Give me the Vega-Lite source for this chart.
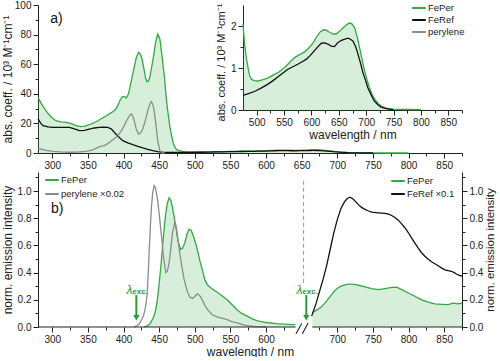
{
"$schema": "https://vega.github.io/schema/vega-lite/v6.json",
"padding": {"left": 0, "top": 0, "right": 0, "bottom": 0},
"spacing": 2,
"config": {
  "font": "Liberation Sans",
  "view": {"stroke": null},
  "axis": {"labelFont": "Liberation Sans", "labelFontSize": 10, "titleFont": "Liberation Sans", "titleFontSize": 12, "titleFontWeight": "normal", "labelColor": "#222", "titleColor": "#222", "domainColor": "#222", "tickColor": "#222", "grid": false, "labelPadding": 2, "labelOverlap": false, "labelFlush": false, "tickCount": 200},
  "legend": {"labelFont": "Liberation Sans", "labelFontSize": 9.5, "labelColor": "#222"}
},
"datasets": {
  "abs": [
    {"nm":280,"s":"FePer","v":37.6},{"nm":285,"s":"FePer","v":33},{"nm":291,"s":"FePer","v":28.6},{"nm":298,"s":"FePer","v":24.5},{"nm":305,"s":"FePer","v":21.8},{"nm":312,"s":"FePer","v":21},{"nm":319,"s":"FePer","v":20.7},{"nm":326,"s":"FePer","v":20},{"nm":333,"s":"FePer","v":18.5},{"nm":340,"s":"FePer","v":17.8},{"nm":346,"s":"FePer","v":18.2},{"nm":352,"s":"FePer","v":19.1},{"nm":358,"s":"FePer","v":20.3},{"nm":364,"s":"FePer","v":21.8},{"nm":370,"s":"FePer","v":23.5},{"nm":376,"s":"FePer","v":25.2},{"nm":381,"s":"FePer","v":26.8},{"nm":385,"s":"FePer","v":27.9},{"nm":389,"s":"FePer","v":29.5},{"nm":392,"s":"FePer","v":32},{"nm":395,"s":"FePer","v":35.5},{"nm":398,"s":"FePer","v":38},{"nm":401,"s":"FePer","v":38.2},{"nm":404,"s":"FePer","v":37.2},{"nm":407,"s":"FePer","v":40},{"nm":411,"s":"FePer","v":48.9},{"nm":415,"s":"FePer","v":58},{"nm":418,"s":"FePer","v":64.6},{"nm":421,"s":"FePer","v":68},{"nm":424,"s":"FePer","v":66.5},{"nm":426,"s":"FePer","v":63.5},{"nm":429,"s":"FePer","v":56},{"nm":431,"s":"FePer","v":50.5},{"nm":433,"s":"FePer","v":48.2},{"nm":435,"s":"FePer","v":48.5},{"nm":437,"s":"FePer","v":51.5},{"nm":439,"s":"FePer","v":56.8},{"nm":442,"s":"FePer","v":65},{"nm":445,"s":"FePer","v":74.8},{"nm":448,"s":"FePer","v":80.4},{"nm":451,"s":"FePer","v":77},{"nm":454,"s":"FePer","v":66},{"nm":457.5,"s":"FePer","v":51},{"nm":460,"s":"FePer","v":37},{"nm":462,"s":"FePer","v":28.6},{"nm":465,"s":"FePer","v":18},{"nm":467,"s":"FePer","v":12.8},{"nm":470,"s":"FePer","v":6},{"nm":473,"s":"FePer","v":3.2},
    {"nm":475,"s":"FePer","v":2.04},{"nm":478,"s":"FePer","v":1.56},{"nm":481,"s":"FePer","v":1.25},{"nm":484,"s":"FePer","v":1.02},{"nm":487,"s":"FePer","v":0.82},{"nm":490,"s":"FePer","v":0.74},{"nm":495,"s":"FePer","v":0.7},{"nm":502,"s":"FePer","v":0.69},{"nm":510,"s":"FePer","v":0.72},{"nm":520,"s":"FePer","v":0.76},{"nm":530,"s":"FePer","v":0.83},{"nm":540,"s":"FePer","v":0.9},{"nm":550,"s":"FePer","v":1.0},{"nm":557,"s":"FePer","v":1.09},{"nm":565,"s":"FePer","v":1.2},{"nm":572,"s":"FePer","v":1.27},{"nm":580,"s":"FePer","v":1.33},{"nm":588,"s":"FePer","v":1.39},{"nm":597,"s":"FePer","v":1.5},{"nm":603,"s":"FePer","v":1.6},{"nm":610,"s":"FePer","v":1.75},{"nm":616,"s":"FePer","v":1.86},{"nm":622,"s":"FePer","v":1.91},{"nm":627,"s":"FePer","v":1.9},{"nm":633,"s":"FePer","v":1.85},{"nm":640,"s":"FePer","v":1.81},{"nm":645,"s":"FePer","v":1.81},{"nm":650,"s":"FePer","v":1.86},{"nm":658,"s":"FePer","v":1.96},{"nm":665,"s":"FePer","v":2.04},{"nm":670,"s":"FePer","v":2.07},{"nm":674,"s":"FePer","v":2.05},{"nm":679,"s":"FePer","v":1.95},{"nm":684,"s":"FePer","v":1.72},{"nm":688,"s":"FePer","v":1.48},{"nm":693,"s":"FePer","v":1.17},{"nm":697,"s":"FePer","v":0.93},{"nm":702,"s":"FePer","v":0.7},{"nm":706,"s":"FePer","v":0.53},{"nm":711,"s":"FePer","v":0.37},{"nm":716,"s":"FePer","v":0.25},{"nm":722,"s":"FePer","v":0.15},{"nm":728,"s":"FePer","v":0.095},{"nm":735,"s":"FePer","v":0.05},{"nm":740,"s":"FePer","v":0.03},{"nm":750,"s":"FePer","v":0.02},{"nm":760,"s":"FePer","v":0.016},{"nm":780,"s":"FePer","v":0.012},{"nm":800,"s":"FePer","v":0.01},
    {"nm":280,"s":"FeRef","v":23},{"nm":284,"s":"FeRef","v":20},{"nm":287,"s":"FeRef","v":18.5},{"nm":294,"s":"FeRef","v":17.6},{"nm":301,"s":"FeRef","v":17.3},{"nm":312,"s":"FeRef","v":17.3},{"nm":324,"s":"FeRef","v":17.3},{"nm":330,"s":"FeRef","v":16.5},{"nm":338,"s":"FeRef","v":15.1},{"nm":345,"s":"FeRef","v":15.3},{"nm":352,"s":"FeRef","v":16.2},{"nm":359,"s":"FeRef","v":16.9},{"nm":366,"s":"FeRef","v":17.3},{"nm":372,"s":"FeRef","v":17.4},{"nm":378,"s":"FeRef","v":17.3},{"nm":383,"s":"FeRef","v":16.2},{"nm":387,"s":"FeRef","v":14},{"nm":393,"s":"FeRef","v":11},{"nm":399,"s":"FeRef","v":8.3},{"nm":406,"s":"FeRef","v":6.8},{"nm":413,"s":"FeRef","v":5.6},{"nm":420,"s":"FeRef","v":4.5},{"nm":427,"s":"FeRef","v":3.4},{"nm":434,"s":"FeRef","v":2.5},{"nm":441,"s":"FeRef","v":1.6},{"nm":448,"s":"FeRef","v":0.9},{"nm":455,"s":"FeRef","v":0.5},{"nm":465,"s":"FeRef","v":0.36},
    {"nm":475,"s":"FeRef","v":0.35},{"nm":485,"s":"FeRef","v":0.39},{"nm":496,"s":"FeRef","v":0.44},{"nm":508,"s":"FeRef","v":0.52},{"nm":520,"s":"FeRef","v":0.61},{"nm":530,"s":"FeRef","v":0.7},{"nm":539,"s":"FeRef","v":0.79},{"nm":548,"s":"FeRef","v":0.88},{"nm":557,"s":"FeRef","v":0.97},{"nm":566,"s":"FeRef","v":1.03},{"nm":575,"s":"FeRef","v":1.09},{"nm":583,"s":"FeRef","v":1.15},{"nm":591,"s":"FeRef","v":1.21},{"nm":598,"s":"FeRef","v":1.3},{"nm":606,"s":"FeRef","v":1.42},{"nm":612,"s":"FeRef","v":1.51},{"nm":618,"s":"FeRef","v":1.59},{"nm":624,"s":"FeRef","v":1.6},{"nm":630,"s":"FeRef","v":1.57},{"nm":636,"s":"FeRef","v":1.52},{"nm":642,"s":"FeRef","v":1.51},{"nm":648,"s":"FeRef","v":1.6},{"nm":655,"s":"FeRef","v":1.66},{"nm":661,"s":"FeRef","v":1.69},{"nm":667,"s":"FeRef","v":1.71},{"nm":672,"s":"FeRef","v":1.68},{"nm":676,"s":"FeRef","v":1.64},{"nm":681,"s":"FeRef","v":1.5},{"nm":685,"s":"FeRef","v":1.33},{"nm":690,"s":"FeRef","v":1.1},{"nm":694,"s":"FeRef","v":0.89},{"nm":699,"s":"FeRef","v":0.7},{"nm":703,"s":"FeRef","v":0.53},{"nm":709,"s":"FeRef","v":0.36},{"nm":715,"s":"FeRef","v":0.21},{"nm":721,"s":"FeRef","v":0.13},{"nm":727,"s":"FeRef","v":0.07},{"nm":735,"s":"FeRef","v":0.04},{"nm":746,"s":"FeRef","v":0.016},{"nm":750,"s":"FeRef","v":0.01},
    {"nm":280,"s":"perylene","v":3.2},{"nm":290,"s":"perylene","v":2.0},{"nm":301,"s":"perylene","v":1.1},{"nm":312,"s":"perylene","v":0.7},{"nm":324,"s":"perylene","v":0.5},{"nm":335,"s":"perylene","v":0.6},{"nm":347,"s":"perylene","v":1.1},{"nm":356,"s":"perylene","v":2.0},{"nm":364,"s":"perylene","v":3.8},{"nm":369,"s":"perylene","v":4.6},{"nm":373,"s":"perylene","v":5},{"nm":378,"s":"perylene","v":6.3},{"nm":383,"s":"perylene","v":8.3},{"nm":388,"s":"perylene","v":10},{"nm":392,"s":"perylene","v":11.7},{"nm":397,"s":"perylene","v":15},{"nm":401,"s":"perylene","v":18.5},{"nm":405,"s":"perylene","v":22.5},{"nm":409,"s":"perylene","v":25.5},{"nm":411,"s":"perylene","v":26.4},{"nm":413,"s":"perylene","v":25},{"nm":415,"s":"perylene","v":21.8},{"nm":418,"s":"perylene","v":16},{"nm":421,"s":"perylene","v":12.8},{"nm":424,"s":"perylene","v":13.5},{"nm":427,"s":"perylene","v":16.2},{"nm":431,"s":"perylene","v":22.5},{"nm":434,"s":"perylene","v":28.6},{"nm":437,"s":"perylene","v":33},{"nm":439,"s":"perylene","v":34.7},{"nm":441,"s":"perylene","v":33},{"nm":443,"s":"perylene","v":28.6},{"nm":446,"s":"perylene","v":17},{"nm":448,"s":"perylene","v":8.3},{"nm":451,"s":"perylene","v":1.6},{"nm":455,"s":"perylene","v":0},{"nm":458,"s":"perylene","v":0}
  ],
  "em": [
    {"nm":429,"s":"FePer","seg":"L","v":0},{"nm":434,"s":"FePer","seg":"L","v":0.01},{"nm":438,"s":"FePer","seg":"L","v":0.03},{"nm":442,"s":"FePer","seg":"L","v":0.07},{"nm":445.4,"s":"FePer","seg":"L","v":0.13},{"nm":448,"s":"FePer","seg":"L","v":0.22},{"nm":450,"s":"FePer","seg":"L","v":0.32},{"nm":452.5,"s":"FePer","seg":"L","v":0.45},{"nm":454.7,"s":"FePer","seg":"L","v":0.59},{"nm":457,"s":"FePer","seg":"L","v":0.72},{"nm":459.4,"s":"FePer","seg":"L","v":0.84},{"nm":461.5,"s":"FePer","seg":"L","v":0.91},{"nm":464,"s":"FePer","seg":"L","v":0.95},{"nm":466.5,"s":"FePer","seg":"L","v":0.93},{"nm":468.7,"s":"FePer","seg":"L","v":0.88},{"nm":471,"s":"FePer","seg":"L","v":0.81},{"nm":473.3,"s":"FePer","seg":"L","v":0.74},{"nm":476.6,"s":"FePer","seg":"L","v":0.63},{"nm":480.3,"s":"FePer","seg":"L","v":0.57},{"nm":483,"s":"FePer","seg":"L","v":0.58},{"nm":486,"s":"FePer","seg":"L","v":0.62},{"nm":489,"s":"FePer","seg":"L","v":0.68},{"nm":492,"s":"FePer","seg":"L","v":0.72},{"nm":495,"s":"FePer","seg":"L","v":0.71},{"nm":498,"s":"FePer","seg":"L","v":0.67},{"nm":501,"s":"FePer","seg":"L","v":0.62},{"nm":504,"s":"FePer","seg":"L","v":0.56},{"nm":507,"s":"FePer","seg":"L","v":0.49},{"nm":510.6,"s":"FePer","seg":"L","v":0.42},{"nm":514,"s":"FePer","seg":"L","v":0.35},{"nm":517.6,"s":"FePer","seg":"L","v":0.31},{"nm":524.5,"s":"FePer","seg":"L","v":0.28},{"nm":531.5,"s":"FePer","seg":"L","v":0.255},{"nm":538,"s":"FePer","seg":"L","v":0.23},{"nm":545.5,"s":"FePer","seg":"L","v":0.2},{"nm":552,"s":"FePer","seg":"L","v":0.165},{"nm":559.5,"s":"FePer","seg":"L","v":0.125},{"nm":566,"s":"FePer","seg":"L","v":0.1},{"nm":573.5,"s":"FePer","seg":"L","v":0.08},{"nm":580,"s":"FePer","seg":"L","v":0.062},{"nm":587,"s":"FePer","seg":"L","v":0.047},{"nm":600,"s":"FePer","seg":"L","v":0.033},{"nm":615,"s":"FePer","seg":"L","v":0.025},{"nm":630,"s":"FePer","seg":"L","v":0.02},{"nm":641,"s":"FePer","seg":"L","v":0.017},
    {"nm":415,"s":"perylene ×0.02","seg":"L","v":0},{"nm":422,"s":"perylene ×0.02","seg":"L","v":0.02},{"nm":428,"s":"perylene ×0.02","seg":"L","v":0.08},{"nm":431,"s":"perylene ×0.02","seg":"L","v":0.15},{"nm":433,"s":"perylene ×0.02","seg":"L","v":0.23},{"nm":434.5,"s":"perylene ×0.02","seg":"L","v":0.37},{"nm":436,"s":"perylene ×0.02","seg":"L","v":0.55},{"nm":437.5,"s":"perylene ×0.02","seg":"L","v":0.72},{"nm":439.3,"s":"perylene ×0.02","seg":"L","v":0.89},{"nm":441,"s":"perylene ×0.02","seg":"L","v":0.99},{"nm":443,"s":"perylene ×0.02","seg":"L","v":1.04},{"nm":445,"s":"perylene ×0.02","seg":"L","v":1.02},{"nm":447.7,"s":"perylene ×0.02","seg":"L","v":0.94},{"nm":450.5,"s":"perylene ×0.02","seg":"L","v":0.81},{"nm":453.3,"s":"perylene ×0.02","seg":"L","v":0.67},{"nm":456,"s":"perylene ×0.02","seg":"L","v":0.52},{"nm":459.4,"s":"perylene ×0.02","seg":"L","v":0.4},{"nm":461.5,"s":"perylene ×0.02","seg":"L","v":0.41},{"nm":464,"s":"perylene ×0.02","seg":"L","v":0.47},{"nm":466.5,"s":"perylene ×0.02","seg":"L","v":0.58},{"nm":468.7,"s":"perylene ×0.02","seg":"L","v":0.69},{"nm":471.9,"s":"perylene ×0.02","seg":"L","v":0.77},{"nm":474,"s":"perylene ×0.02","seg":"L","v":0.74},{"nm":475.7,"s":"perylene ×0.02","seg":"L","v":0.67},{"nm":478.5,"s":"perylene ×0.02","seg":"L","v":0.56},{"nm":481.7,"s":"perylene ×0.02","seg":"L","v":0.45},{"nm":485,"s":"perylene ×0.02","seg":"L","v":0.35},{"nm":489.6,"s":"perylene ×0.02","seg":"L","v":0.26},{"nm":493,"s":"perylene ×0.02","seg":"L","v":0.22},{"nm":496.6,"s":"perylene ×0.02","seg":"L","v":0.21},{"nm":500,"s":"perylene ×0.02","seg":"L","v":0.225},{"nm":503.6,"s":"perylene ×0.02","seg":"L","v":0.245},{"nm":507,"s":"perylene ×0.02","seg":"L","v":0.23},{"nm":510.6,"s":"perylene ×0.02","seg":"L","v":0.2},{"nm":514,"s":"perylene ×0.02","seg":"L","v":0.16},{"nm":517.6,"s":"perylene ×0.02","seg":"L","v":0.13},{"nm":524.5,"s":"perylene ×0.02","seg":"L","v":0.09},{"nm":531.5,"s":"perylene ×0.02","seg":"L","v":0.075},{"nm":538,"s":"perylene ×0.02","seg":"L","v":0.065},{"nm":545.5,"s":"perylene ×0.02","seg":"L","v":0.054},{"nm":552,"s":"perylene ×0.02","seg":"L","v":0.04},{"nm":559.5,"s":"perylene ×0.02","seg":"L","v":0.03},{"nm":566,"s":"perylene ×0.02","seg":"L","v":0.02},{"nm":573.5,"s":"perylene ×0.02","seg":"L","v":0.01},{"nm":585,"s":"perylene ×0.02","seg":"L","v":0.003},{"nm":600,"s":"perylene ×0.02","seg":"L","v":0},
    {"nm":665,"s":"FePer","seg":"R","v":0.105},{"nm":668,"s":"FePer","seg":"R","v":0.115},{"nm":673.6,"s":"FePer","seg":"R","v":0.133},{"nm":678,"s":"FePer","seg":"R","v":0.15},{"nm":682.9,"s":"FePer","seg":"R","v":0.177},{"nm":687,"s":"FePer","seg":"R","v":0.205},{"nm":692.3,"s":"FePer","seg":"R","v":0.24},{"nm":697,"s":"FePer","seg":"R","v":0.27},{"nm":701.6,"s":"FePer","seg":"R","v":0.29},{"nm":706,"s":"FePer","seg":"R","v":0.302},{"nm":710.9,"s":"FePer","seg":"R","v":0.31},{"nm":715,"s":"FePer","seg":"R","v":0.315},{"nm":720.3,"s":"FePer","seg":"R","v":0.316},{"nm":725,"s":"FePer","seg":"R","v":0.312},{"nm":729.6,"s":"FePer","seg":"R","v":0.307},{"nm":738.9,"s":"FePer","seg":"R","v":0.295},{"nm":748.2,"s":"FePer","seg":"R","v":0.283},{"nm":757.6,"s":"FePer","seg":"R","v":0.275},{"nm":766.9,"s":"FePer","seg":"R","v":0.283},{"nm":776.3,"s":"FePer","seg":"R","v":0.292},{"nm":783.3,"s":"FePer","seg":"R","v":0.293},{"nm":790.3,"s":"FePer","seg":"R","v":0.275},{"nm":799.6,"s":"FePer","seg":"R","v":0.25},{"nm":808.9,"s":"FePer","seg":"R","v":0.226},{"nm":818.3,"s":"FePer","seg":"R","v":0.2},{"nm":827.6,"s":"FePer","seg":"R","v":0.183},{"nm":836.9,"s":"FePer","seg":"R","v":0.17},{"nm":846.2,"s":"FePer","seg":"R","v":0.167},{"nm":855.6,"s":"FePer","seg":"R","v":0.165},{"nm":862.6,"s":"FePer","seg":"R","v":0.175},{"nm":869.6,"s":"FePer","seg":"R","v":0.17},{"nm":875,"s":"FePer","seg":"R","v":0.175},
    {"nm":664,"s":"FeRef ×0.1","seg":"R","v":0.08},{"nm":670,"s":"FeRef ×0.1","seg":"R","v":0.17},{"nm":675,"s":"FeRef ×0.1","seg":"R","v":0.26},{"nm":680,"s":"FeRef ×0.1","seg":"R","v":0.35},{"nm":685,"s":"FeRef ×0.1","seg":"R","v":0.45},{"nm":690,"s":"FeRef ×0.1","seg":"R","v":0.57},{"nm":695,"s":"FeRef ×0.1","seg":"R","v":0.69},{"nm":700,"s":"FeRef ×0.1","seg":"R","v":0.79},{"nm":705,"s":"FeRef ×0.1","seg":"R","v":0.87},{"nm":710,"s":"FeRef ×0.1","seg":"R","v":0.92},{"nm":714,"s":"FeRef ×0.1","seg":"R","v":0.945},{"nm":718,"s":"FeRef ×0.1","seg":"R","v":0.955},{"nm":722.6,"s":"FeRef ×0.1","seg":"R","v":0.94},{"nm":726,"s":"FeRef ×0.1","seg":"R","v":0.92},{"nm":729.6,"s":"FeRef ×0.1","seg":"R","v":0.9},{"nm":734,"s":"FeRef ×0.1","seg":"R","v":0.88},{"nm":738.9,"s":"FeRef ×0.1","seg":"R","v":0.865},{"nm":743,"s":"FeRef ×0.1","seg":"R","v":0.855},{"nm":748.2,"s":"FeRef ×0.1","seg":"R","v":0.845},{"nm":757.6,"s":"FeRef ×0.1","seg":"R","v":0.84},{"nm":766.9,"s":"FeRef ×0.1","seg":"R","v":0.835},{"nm":772,"s":"FeRef ×0.1","seg":"R","v":0.83},{"nm":776.3,"s":"FeRef ×0.1","seg":"R","v":0.82},{"nm":781,"s":"FeRef ×0.1","seg":"R","v":0.805},{"nm":785.6,"s":"FeRef ×0.1","seg":"R","v":0.786},{"nm":790,"s":"FeRef ×0.1","seg":"R","v":0.76},{"nm":794.9,"s":"FeRef ×0.1","seg":"R","v":0.73},{"nm":799.6,"s":"FeRef ×0.1","seg":"R","v":0.695},{"nm":804.2,"s":"FeRef ×0.1","seg":"R","v":0.655},{"nm":808.9,"s":"FeRef ×0.1","seg":"R","v":0.617},{"nm":813.6,"s":"FeRef ×0.1","seg":"R","v":0.58},{"nm":818,"s":"FeRef ×0.1","seg":"R","v":0.548},{"nm":822.9,"s":"FeRef ×0.1","seg":"R","v":0.52},{"nm":827.6,"s":"FeRef ×0.1","seg":"R","v":0.498},{"nm":832.2,"s":"FeRef ×0.1","seg":"R","v":0.48},{"nm":836.9,"s":"FeRef ×0.1","seg":"R","v":0.465},{"nm":841.6,"s":"FeRef ×0.1","seg":"R","v":0.45},{"nm":846,"s":"FeRef ×0.1","seg":"R","v":0.435},{"nm":850.9,"s":"FeRef ×0.1","seg":"R","v":0.42},{"nm":855.6,"s":"FeRef ×0.1","seg":"R","v":0.415},{"nm":860.2,"s":"FeRef ×0.1","seg":"R","v":0.41},{"nm":864,"s":"FeRef ×0.1","seg":"R","v":0.4},{"nm":867.2,"s":"FeRef ×0.1","seg":"R","v":0.39},{"nm":871,"s":"FeRef ×0.1","seg":"R","v":0.38},{"nm":875,"s":"FeRef ×0.1","seg":"R","v":0.375}
  ]
},
"vconcat": [
  {
    "width": 424, "height": 148,
    "layer": [
      {"layer": [
        {"data": {"name": "abs"}, "transform": [{"filter": "datum.s == 'FePer'"}],
         "mark": {"type": "area", "color": "#35a845", "opacity": 0.2},
         "encoding": {
           "x": {"field": "nm", "type": "quantitative", "scale": {"domain": [280, 875], "nice": false, "zero": false}, "axis": {"orient": "bottom", "title": null, "tickCount": 200, "labelOverlap": false, "values": [300,325,350,375,400,425,450,475,500,525,550,575,600,625,650,675,700,725,750,775,800,825,850,875], "labelExpr": "datum.value % 50 == 0 ? datum.label : ''", "format": "d", "tickSize": {"condition": {"test": "datum.value % 50 != 0", "value": 3}, "value": 5}}},
           "y": {"field": "v", "type": "quantitative", "scale": {"domain": [0, 100], "nice": false}, "axis": {"orient": "left", "title": "abs. coeff. / 10³ M⁻¹cm⁻¹", "tickCount": 200, "labelOverlap": false, "values": [0,10,20,30,40,50,60,70,80,90,100], "format": "d", "labelExpr": "datum.value % 20 == 0 ? datum.label : ''", "tickSize": {"condition": {"test": "datum.value % 20 != 0", "value": 3}, "value": 5}, "minExtent": 21, "maxExtent": 21, "titlePadding": 3}}
         }},
        {"data": {"name": "abs"},
         "mark": {"type": "line", "strokeWidth": 1.3},
         "encoding": {
           "x": {"field": "nm", "type": "quantitative", "scale": {"domain": [280, 875], "nice": false, "zero": false}},
           "y": {"field": "v", "type": "quantitative", "scale": {"domain": [0, 100], "nice": false}},
           "color": {"field": "s", "type": "nominal", "scale": {"domain": ["FePer", "FeRef", "perylene"], "range": ["#35a845", "#111111", "#8c8c8c"]},
             "legend": {"title": null, "orient": "none", "legendX": 374, "legendY": -4, "symbolType": "M-1.2,0L1.2,0", "symbolSize": 128, "symbolStrokeWidth": 2, "rowPadding": 0, "padding": 0, "labelOffset": 2}}
         }},
        {"data": {"values": [{}]},
         "mark": {"type": "text", "text": "a)", "fontSize": 14, "align": "center", "color": "#111"},
         "encoding": {"x": {"datum": 306}, "y": {"datum": 90.5}}}
      ]},
      {"layer": [
        {"data": {"name": "abs"}, "transform": [{"filter": "datum.s == 'FePer' && datum.nm >= 475"}],
         "mark": {"type": "area", "color": "#35a845", "opacity": 0.2},
         "encoding": {
           "x": {"field": "nm", "type": "quantitative", "scale": {"domain": [475, 875], "range": [205, 424], "nice": false, "zero": false}, "axis": {"orient": "bottom", "offset": -43, "title": "wavelength / nm", "titlePadding": 2, "tickCount": 200, "labelOverlap": false, "values": [500,525,550,575,600,625,650,675,700,725,750,775,800,825,850,875], "labelExpr": "datum.value % 50 == 0 ? datum.label : ''", "format": "d", "tickSize": {"condition": {"test": "datum.value % 50 != 0", "value": 3}, "value": 5}}},
           "y": {"field": "v", "type": "quantitative", "scale": {"domain": [0, 2.5], "range": [105, 0], "nice": false}, "axis": {"orient": "left", "offset": -205, "title": "abs. coeff. / 10³ M⁻¹cm⁻¹", "titlePadding": 4, "titleFontSize": 11, "titleY": 57, "tickCount": 200, "labelOverlap": false, "values": [0, 0.5, 1, 1.5, 2], "labelExpr": "datum.value % 1 == 0 ? format(datum.value, 'd') : ''", "tickSize": {"condition": {"test": "datum.value % 1 != 0", "value": 3}, "value": 5}}}
         }},
        {"data": {"name": "abs"}, "transform": [{"filter": "datum.s != 'perylene' && datum.nm >= 475"}],
         "mark": {"type": "line", "strokeWidth": 1.3},
         "encoding": {
           "x": {"field": "nm", "type": "quantitative", "scale": {"domain": [475, 875], "range": [205, 424], "nice": false, "zero": false}},
           "y": {"field": "v", "type": "quantitative", "scale": {"domain": [0, 2.5], "range": [105, 0], "nice": false}},
           "color": {"field": "s", "type": "nominal"}
         }}
      ]}
    ],
    "resolve": {"scale": {"x": "independent", "y": "independent"}, "axis": {"x": "independent", "y": "independent"}}
  },
  {
    "width": 424, "height": 155,
    "layer": [
      {"layer": [
        {"data": {"name": "em"}, "transform": [{"filter": "datum.s == 'FePer' && datum.seg == 'L'"}],
         "mark": {"type": "area", "color": "#35a845", "opacity": 0.2},
         "encoding": {
           "x": {"field": "nm", "type": "quantitative", "scale": {"domain": [280, 875], "nice": false, "zero": false}, "axis": {"orient": "bottom", "domain": false, "title": "wavelength / nm", "titlePadding": 2, "tickCount": 200, "labelOverlap": false, "values": [300,325,350,375,400,425,450,475,500,525,550,575,600,625,675,700,725,750,775,800,825,850,875], "labelExpr": "datum.value % 50 == 0 ? datum.label : ''", "format": "d", "tickSize": {"condition": {"test": "datum.value % 50 != 0", "value": 3}, "value": 5}}},
           "y": {"field": "v", "type": "quantitative", "scale": {"domain": [0, 1.14], "nice": false}, "axis": {"orient": "left", "title": "norm. emission intensity", "tickCount": 200, "labelOverlap": false, "values": [0,0.1,0.2,0.3,0.4,0.5,0.6,0.7,0.8,0.9,1.0,1.1], "labelExpr": "round(datum.value*10) % 2 == 0 ? format(datum.value, '.1f') : ''", "tickSize": {"condition": {"test": "round(datum.value*10) % 2 != 0", "value": 3}, "value": 5}, "minExtent": 21, "maxExtent": 21, "titlePadding": 3}}
         }},
        {"data": {"name": "em"}, "transform": [{"filter": "datum.seg == 'L'"}],
         "mark": {"type": "line", "strokeWidth": 1.3},
         "encoding": {
           "x": {"field": "nm", "type": "quantitative", "scale": {"domain": [280, 875], "nice": false, "zero": false}},
           "y": {"field": "v", "type": "quantitative", "scale": {"domain": [0, 1.14], "nice": false}},
           "color": {"field": "s", "type": "nominal", "scale": {"domain": ["FePer", "perylene ×0.02"], "range": ["#35a845", "#8c8c8c"]},
             "legend": {"title": null, "orient": "none", "legendX": 7, "legendY": 1, "symbolType": "M-1.2,0L1.2,0", "symbolSize": 128, "symbolStrokeWidth": 2, "rowPadding": 2, "padding": 0, "labelOffset": 2}}
         }},
        {"data": {"values": [{}]},
         "mark": {"type": "rule", "color": "#2a9a3a", "strokeWidth": 2},
         "encoding": {"x": {"datum": 418}, "y": {"datum": 0.235}, "y2": {"datum": 0.08}}},
        {"data": {"values": [{}]},
         "mark": {"type": "point", "shape": "triangle-down", "filled": true, "size": 40, "opacity": 1, "color": "#2a9a3a"},
         "encoding": {"x": {"datum": 418}, "y": {"datum": 0.068}}},
        {"data": {"values": [{}]},
         "mark": {"type": "text", "text": "λ", "fontSize": 12, "fontStyle": "italic", "color": "#2a9a3a", "align": "right", "dx": -4},
         "encoding": {"x": {"datum": 418}, "y": {"datum": 0.27}}},
        {"data": {"values": [{}]},
         "mark": {"type": "text", "text": "exc.", "fontSize": 8, "fontWeight": "bold", "color": "#2a9a3a", "align": "left", "dx": -4},
         "encoding": {"x": {"datum": 418}, "y": {"datum": 0.258}}},
        {"data": {"values": [{}]},
         "mark": {"type": "text", "text": "b)", "fontSize": 14, "align": "center", "color": "#111"},
         "encoding": {"x": {"datum": 307}, "y": {"datum": 0.865}}}
      ]},
      {"layer": [
        {"data": {"name": "em"}, "transform": [{"filter": "datum.s == 'FePer' && datum.seg == 'R'"}],
         "mark": {"type": "area", "color": "#35a845", "opacity": 0.2},
         "encoding": {
           "x": {"field": "nm", "type": "quantitative", "scale": {"domain": [280, 875], "nice": false, "zero": false}},
           "y": {"field": "v", "type": "quantitative", "scale": {"domain": [0, 1.14], "nice": false}, "axis": {"orient": "right", "title": "norm. emission intensity", "titleFontSize": 11.5, "titleAngle": 270, "titleBaseline": "top", "titlePadding": 2, "tickCount": 200, "labelOverlap": false, "values": [0,0.1,0.2,0.3,0.4,0.5,0.6,0.7,0.8,0.9,1.0,1.1], "labelExpr": "round(datum.value*10) % 2 == 0 ? format(datum.value, '.1f') : ''", "tickSize": {"condition": {"test": "round(datum.value*10) % 2 != 0", "value": 3}, "value": 5}}}
         }},
        {"data": {"name": "em"}, "transform": [{"filter": "datum.seg == 'R'"}],
         "mark": {"type": "line", "strokeWidth": 1.3},
         "encoding": {
           "x": {"field": "nm", "type": "quantitative", "scale": {"domain": [280, 875], "nice": false, "zero": false}},
           "y": {"field": "v", "type": "quantitative", "scale": {"domain": [0, 1.14], "nice": false}},
           "color": {"field": "s", "type": "nominal", "scale": {"domain": ["FePer", "FeRef ×0.1"], "range": ["#35a845", "#111111"]},
             "legend": {"title": null, "orient": "none", "legendX": 353, "legendY": 2, "symbolType": "M-1.2,0L1.2,0", "symbolSize": 128, "symbolStrokeWidth": 2, "rowPadding": 1, "padding": 0, "labelOffset": 2}}
         }},
        {"data": {"values": [{}]},
         "mark": {"type": "rule", "color": "#9a9a9a", "strokeWidth": 1, "strokeDash": [4, 3]},
         "encoding": {"x": {"datum": 652.7}, "y": {"datum": 1.075}, "y2": {"datum": 0.31}}},
        {"data": {"values": [{}]},
         "mark": {"type": "rule", "color": "#2a9a3a", "strokeWidth": 2},
         "encoding": {"x": {"datum": 656.5}, "y": {"datum": 0.235}, "y2": {"datum": 0.08}}},
        {"data": {"values": [{}]},
         "mark": {"type": "point", "shape": "triangle-down", "filled": true, "size": 40, "opacity": 1, "color": "#2a9a3a"},
         "encoding": {"x": {"datum": 656.5}, "y": {"datum": 0.068}}},
        {"data": {"values": [{}]},
         "mark": {"type": "text", "text": "λ", "fontSize": 12, "fontStyle": "italic", "color": "#2a9a3a", "align": "right", "dx": -4},
         "encoding": {"x": {"datum": 656.5}, "y": {"datum": 0.27}}},
        {"data": {"values": [{}]},
         "mark": {"type": "text", "text": "exc.", "fontSize": 8, "fontWeight": "bold", "color": "#2a9a3a", "align": "left", "dx": -4},
         "encoding": {"x": {"datum": 656.5}, "y": {"datum": 0.258}}},
        {"data": {"values": [{}]},
         "mark": {"type": "rule", "color": "#222", "strokeWidth": 1},
         "encoding": {"x": {"datum": 280}, "x2": {"datum": 641.5}, "y": {"datum": 0}}},
        {"data": {"values": [{}]},
         "mark": {"type": "rule", "color": "#222", "strokeWidth": 1},
         "encoding": {"x": {"datum": 665}, "x2": {"datum": 875}, "y": {"datum": 0}}},
        {"data": {"values": [{}]},
         "mark": {"type": "rule", "color": "#222", "strokeWidth": 1.1},
         "encoding": {"x": {"datum": 642}, "x2": {"datum": 650}, "y": {"datum": -0.05}, "y2": {"datum": 0.025}}},
        {"data": {"values": [{}]},
         "mark": {"type": "rule", "color": "#222", "strokeWidth": 1.1},
         "encoding": {"x": {"datum": 651}, "x2": {"datum": 659}, "y": {"datum": -0.05}, "y2": {"datum": 0.03}}}
      ]}
    ],
    "resolve": {"scale": {"y": "independent", "color": "independent"}, "axis": {"y": "independent"}, "legend": {"color": "independent"}}
  }
]
}
